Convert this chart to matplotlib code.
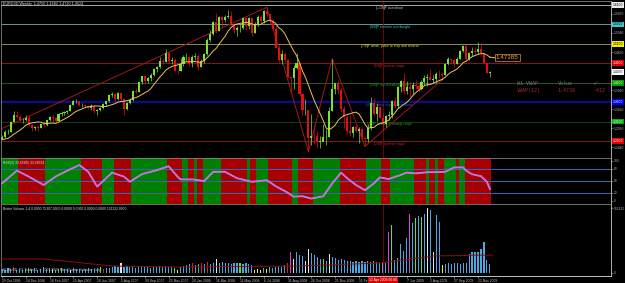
import numpy as np
import pandas as pd
import matplotlib
matplotlib.use("Agg")
import matplotlib.pyplot as plt

# ---- weekly EURUSD, first bar 29 Oct 2006 ----
first_open = 1.2660
closes = [
    1.2710, 1.2830, 1.2830, 1.3100, 1.3280, 1.3220, 1.3130, 1.3150, 1.3200, 1.3000,
    1.2930, 1.2950, 1.2940, 1.3050, 1.3000, 1.3130, 1.3220, 1.3200, 1.3120, 1.3300,
    1.3330, 1.3350, 1.3370, 1.3530, 1.3620, 1.3620, 1.3520, 1.3520, 1.3490, 1.3450,
    1.3500, 1.3370, 1.3410, 1.3450, 1.3540, 1.3620, 1.3780, 1.3810, 1.3690, 1.3830,
    1.3670, 1.3420, 1.3580, 1.3650, 1.3880, 1.3870, 1.4110, 1.4270, 1.4140, 1.4230,
    1.4310, 1.4460, 1.4510, 1.4660, 1.4640, 1.4860, 1.4650, 1.4680, 1.4410, 1.4400,
    1.4590, 1.4750, 1.4760, 1.4620, 1.4770, 1.4800, 1.4500, 1.4670, 1.4830, 1.5200,
    1.5360, 1.5660, 1.5430, 1.5790, 1.5720, 1.5800, 1.5810, 1.5600, 1.5460, 1.5500,
    1.5500, 1.5760, 1.5550, 1.5760, 1.5380, 1.5620, 1.5800, 1.5690, 1.5950, 1.5860,
    1.5700, 1.5490, 1.5000, 1.4680, 1.4850, 1.4680, 1.4260, 1.4220, 1.4480, 1.4620,
    1.3800, 1.3400, 1.3410, 1.2680, 1.2730, 1.2720, 1.2580, 1.2580, 1.2700, 1.2710,
    1.3380, 1.3930, 1.4080, 1.3920, 1.3430, 1.3230, 1.2850, 1.2800, 1.2950, 1.2850,
    1.2920, 1.2670, 1.2650, 1.2930, 1.3580, 1.3290, 1.3480, 1.3200, 1.3050, 1.3250,
    1.3270, 1.3630, 1.3490, 1.3990, 1.4150, 1.3880, 1.3990, 1.3930, 1.4030, 1.4010,
    1.3940, 1.4120, 1.4220, 1.4250, 1.4180, 1.4190, 1.4330, 1.4320, 1.4300, 1.4570,
    1.4700, 1.4680, 1.4580, 1.4720, 1.4910, 1.5050, 1.4720, 1.4860, 1.4910, 1.4880,
    1.4980, 1.4860, 1.4600, 1.4350, 1.4370,
]
highs = [
    1.2760, 1.2880, 1.2900, 1.3120, 1.3370, 1.3370, 1.3260, 1.3190, 1.3260, 1.3280,
    1.3040, 1.2990, 1.3000, 1.3070, 1.3110, 1.3150, 1.3250, 1.3260, 1.3230, 1.3320,
    1.3380, 1.3380, 1.3400, 1.3550, 1.3650, 1.3680, 1.3630, 1.3580, 1.3560, 1.3500,
    1.3540, 1.3530, 1.3430, 1.3470, 1.3570, 1.3640, 1.3800, 1.3850, 1.3840, 1.3850,
    1.3840, 1.3700, 1.3610, 1.3700, 1.3900, 1.3960, 1.4130, 1.4280, 1.4280, 1.4250,
    1.4350, 1.4480, 1.4530, 1.4750, 1.4730, 1.4970, 1.4880, 1.4760, 1.4740, 1.4440,
    1.4740, 1.4820, 1.4860, 1.4780, 1.4820, 1.4870, 1.4840, 1.4720, 1.4870, 1.5240,
    1.5460, 1.5680, 1.5900, 1.5820, 1.5810, 1.5850, 1.5980, 1.5940, 1.5670, 1.5550,
    1.5610, 1.5800, 1.5780, 1.5800, 1.5760, 1.5660, 1.5830, 1.5850, 1.5960, 1.6040,
    1.5860, 1.5720, 1.5580, 1.5060, 1.4930, 1.4890, 1.4710, 1.4280, 1.4560, 1.4870,
    1.4640, 1.3840, 1.3680, 1.3370, 1.3300, 1.3000, 1.2860, 1.2740, 1.3050, 1.2920,
    1.3480, 1.4720, 1.4100, 1.4160, 1.3980, 1.3490, 1.3280, 1.3270, 1.2980, 1.3000,
    1.2960, 1.2930, 1.2720, 1.3040, 1.3740, 1.3680, 1.3580, 1.3450, 1.3330, 1.3280,
    1.3380, 1.3650, 1.3740, 1.4010, 1.4170, 1.4340, 1.4140, 1.4130, 1.4120, 1.4160,
    1.4100, 1.4180, 1.4290, 1.4330, 1.4450, 1.4300, 1.4380, 1.4440, 1.4370, 1.4600,
    1.4760, 1.4740, 1.4700, 1.4760, 1.4950, 1.5060, 1.5070, 1.4890, 1.5010, 1.5010,
    1.5140, 1.5140, 1.4850, 1.4610, 1.4410,
]
lows = [
    1.2640, 1.2680, 1.2790, 1.2820, 1.3090, 1.3180, 1.3090, 1.3060, 1.3110, 1.2990,
    1.2870, 1.2880, 1.2870, 1.2930, 1.2950, 1.2980, 1.3120, 1.3090, 1.3080, 1.3110,
    1.3250, 1.3270, 1.3300, 1.3360, 1.3520, 1.3570, 1.3500, 1.3480, 1.3460, 1.3420,
    1.3390, 1.3310, 1.3280, 1.3380, 1.3420, 1.3510, 1.3600, 1.3740, 1.3600, 1.3650,
    1.3620, 1.3260, 1.3410, 1.3560, 1.3620, 1.3840, 1.3860, 1.4070, 1.4060, 1.4080,
    1.4150, 1.4280, 1.4380, 1.4480, 1.4580, 1.4640, 1.4570, 1.4580, 1.4390, 1.4330,
    1.4390, 1.4530, 1.4650, 1.4530, 1.4500, 1.4690, 1.4440, 1.4500, 1.4620, 1.4810,
    1.5150, 1.5340, 1.5380, 1.5430, 1.5530, 1.5650, 1.5760, 1.5560, 1.5380, 1.5290,
    1.5400, 1.5470, 1.5450, 1.5470, 1.5300, 1.5370, 1.5570, 1.5620, 1.5640, 1.5820,
    1.5600, 1.5450, 1.4990, 1.4640, 1.4580, 1.4640, 1.4210, 1.3880, 1.3940, 1.4450,
    1.3760, 1.3260, 1.3260, 1.2330, 1.2490, 1.2520, 1.2450, 1.2420, 1.2620, 1.2500,
    1.2710, 1.3370, 1.3810, 1.3820, 1.3350, 1.2930, 1.2770, 1.2730, 1.2700, 1.2820,
    1.2540, 1.2620, 1.2460, 1.2580, 1.2890, 1.3240, 1.3110, 1.3180, 1.2890, 1.2970,
    1.3130, 1.3180, 1.3460, 1.3460, 1.3860, 1.3820, 1.3810, 1.3730, 1.3820, 1.3950,
    1.3850, 1.3900, 1.4050, 1.4010, 1.4170, 1.4090, 1.4100, 1.4210, 1.4160, 1.4290,
    1.4550, 1.4590, 1.4480, 1.4580, 1.4700, 1.4880, 1.4690, 1.4690, 1.4780, 1.4830,
    1.4830, 1.4820, 1.4580, 1.4340, 1.4260,
]
# closes of the nine weeks before the first bar (they seed the moving average)
pre_closes = [1.2700, 1.2650, 1.2600, 1.2690, 1.2720, 1.2620, 1.2560, 1.2510, 1.2600]
ma_period = 10
vwap_value = 1.47385

# the 12 Apr 2009 label sits under the red line-date box, so it stays blank
date_labels = ["29 Oct 2006", "24 Dec 2006", "18 Feb 2007", "15 Apr 2007", "10 Jun 2007",
               "5 Aug 2007", "30 Sep 2007", "25 Nov 2007", "20 Jan 2008", "16 Mar 2008",
               "11 May 2008", "6 Jul 2008", "31 Aug 2008", "26 Oct 2008", "21 Dec 2008",
               "15 Feb 2009", "", "7 Jun 2009", "2 Aug 2009", "27 Sep 2009",
               "22 Nov 2009"]
label_step = 8          # weeks between date labels
vline_bar = 128         # vertical line object (12 Apr 2009)

# Murrey math levels
mm_prices = [1.61, 1.56, 1.51, 1.46, 1.41, 1.36, 1.31, 1.26]
mm_labels = ["[+1/8]P overshoot", "[8/8]P extreme overbought",
             "[7/8]P weak, place to stop and reverse", "[6/8]P reverse major",
             "[5/8]P top of trading range", "[4/8]P major support/resistance",
             "[3/8]P bottom of trading range", "[2/8]P reverse major"]
mm_line_colors = ["#a8a8a8", "#5f9c9c", "#8c8c52", "#861818", "#2c562c", "#0c0c84", "#0c420c", "#861818"]
mm_line_widths = [0.7, 0.7, 0.7, 0.7, 0.7, 1.7, 0.7, 0.7]
mm_text_colors = ["#d0d0d0", "#40c8c8", "#e0e040", "#d02020", "#20a020", "#3050e0", "#20a020", "#d02020"]
mm_box_colors = ["#e8e8e8", "#40c8c8", "#f0f000", "#e00000", "#00a000", "#0000f0", "#00b000", "#e00000"]
price_ticks = [1.5870, 1.5380, 1.4890, 1.3910, 1.3420, 1.2930, 1.2440]

# zigzag pivots (bar, price)
zz_bars = [-5, 89, 103, 111, 122, 148]
zz_prices = [1.2745, 1.6040, 1.2330, 1.4720, 1.2460, 1.4180]

# oscillator panel
rsi_bars = [0, 5, 9, 14, 18, 22, 26, 29, 32, 37, 41, 43, 47, 52, 56, 59, 60, 64, 68, 71,
            75, 79, 84, 89, 92, 96, 98, 101, 104, 108, 111, 114, 116, 119, 122, 125, 127, 130,
            134, 136, 139, 143, 146, 149, 152, 155, 156, 158, 161, 163, 164]
rsi_vals = [44, 76, 61, 40, 61, 76, 90, 73, 36, 71, 61, 48, 67, 77, 87, 61, 54, 54, 50, 73,
            73, 57, 48, 52, 37, 21, 11, 12, 6, 12, 44, 71, 57, 40, 27, 44, 59, 55,
            65, 71, 69, 72, 72, 73, 84, 84, 76, 67, 62, 48, 30]
rsi_levels = [20, 50, 80]
band_runs = [6, 9, 12, 7, 4, 6, 12, 5, 2, 2, 1, 2, 6, 9, 1, 2, 4, 8, 2, 5, 9, 9, 5, 3, 8,
             4, 1, 2, 1, 2, 4, 1, 2, 9]
band_first = "g"        # colours alternate green / red

# volume panel (thousands)
volumes = [4, 3, 5, 4, 6, 3, 4, 3, 4, 5, 4, 5, 3, 4, 6, 4, 5, 4, 3, 4, 5, 4, 4, 3, 5, 4, 4, 3, 4, 5,
           4, 4, 5, 6, 4, 5, 5,
           6, 7, 6, 10, 6, 7, 6, 6, 5, 6, 7, 6, 6, 5, 6, 6, 7, 6, 7, 6, 6, 5, 3, 6, 7, 8,
           9, 10, 8, 9, 10, 9, 11, 9, 10, 14,
           10, 11, 10, 10, 9, 10, 10, 10, 9, 10, 9, 8,
           3, 4, 3, 5, 4, 6, 5, 6, 7, 6, 8, 10,
           21, 14, 21, 18, 17, 12, 24, 20, 18, 16, 14, 14, 12, 19,
           16, 15, 13, 14, 13, 12, 12, 11, 12, 11, 12, 11, 12, 11, 12, 11, 10, 10, 10,
           41, 48, 13, 15, 29, 22, 35, 59, 50, 55, 57, 56, 59, 65, 63, 21, 58, 51, 8,
           9, 10, 9, 10, 10, 9, 10, 10, 19, 21, 21, 21, 24, 31, 13, 9]
vol_codes = ("bbbbrbbbbbgbbbbbbybbgbbwbbbbbbbbbgrbb"
             "bbbwbbbbbbbbbbbbbbbbbgybbb"
             "brbbrbrbbw"
             "bbbbbbbgbbbb"
             "yyybybbbbbbr"
             "mwbbbwwbbbbgbw"
             "bbbbbbbbbbbbbbbbbbb"
             "mgbbbbbmbgbgbwbwbby"
             "bbbbbbbbbbbbbbbb")
vol_palette = {"b": "#4aa8e2", "w": "#e8e8e8", "r": "#e02020", "g": "#60e040",
               "m": "#e040e0", "y": "#f0f040"}
vol_avg_bars = [-1, 14, 37, 60, 100, 127, 145, 165]
vol_avg_vals = [14, 14, 7, 6, 7, 10, 17, 18]

# ---- layout (pixels) ----
W, H = 625, 283
PX = 2.975              # pixels per weekly bar
X0 = 2                  # pixel of bar 0
FS = 2.4                # tiny terminal font
BG = "black"

plt.rcParams["font.family"] = ["Liberation Sans", "DejaVu Sans"]
fig = plt.figure(figsize=(W / 100, H / 100), dpi=100, facecolor=BG)


def px_axes(x0, y0, x1, y1):
    a = fig.add_axes([x0 / W, 1 - y1 / H, (x1 - x0) / W, (y1 - y0) / H])
    a.set_facecolor(BG)
    a.set_xlim((x0 - X0) / PX, (x1 - X0) / PX)
    for s in a.spines.values():
        s.set_color("#808080")
        s.set_linewidth(0.6)
    a.spines["right"].set_color("#c8c8c8")
    return a


n = len(closes)
idx = np.arange(n)
c = np.array(closes)
o = np.array([first_open] + closes[:-1])
hi = np.array(highs)
lo = np.array(lows)
ma = pd.Series(pre_closes + closes).rolling(ma_period).mean().to_numpy()[len(pre_closes):]

# ---------- main price panel ----------
ax = px_axes(1, 1, 611, 158)
step = 0.05 / 19.43
ax.set_ylim(1.61 - 153 * step, 1.61 + 4 * step)

for p, lc, lw in zip(mm_prices, mm_line_colors, mm_line_widths):
    ax.axhline(p, color=lc, lw=lw, zorder=1)
for p, t, tc in zip(mm_prices, mm_labels, mm_text_colors):
    ax.annotate(t, xy=(130.3, p), xytext=(0, -1.9), textcoords="offset points",
                ha="center", va="center", fontsize=FS, color=tc, zorder=2)

ax.axvline(vline_bar, color="#8b0000", lw=0.6, zorder=1)
ax.plot(zz_bars, zz_prices, color="#a01818", lw=0.7, zorder=2)

up = c >= o
cols = np.where(up, "#80e030", "#e01010")
ax.vlines(idx, lo, hi, colors=cols, lw=0.5, zorder=3)
body = np.maximum(np.abs(c - o), 0.0008)
ax.bar(idx, body, bottom=np.minimum(o, c), width=0.7, color=cols, lw=0, zorder=3)

ax.plot(idx, ma, color="#f2c060", lw=0.7, zorder=4)
ax.plot([idx[-1], idx[-1] + 2], [ma[-1], vwap_value], color="#f2c060", lw=0.7, zorder=4)
ax.annotate(f"{vwap_value:.5f}", xy=(idx[-1] + 2, vwap_value), ha="left", va="center",
            fontsize=4.5, color="#f0a040", zorder=5,
            bbox=dict(boxstyle="square,pad=0.15", fc=BG, ec="#e09030", lw=0.5))

ax.text(0.003, 0.992, "EURUSD,Weekly  1.4750 1.4482 1.4720 1.4524", transform=ax.transAxes,
        ha="left", va="top", fontsize=2.7, color="#e0e0e0")
mono = ["Liberation Mono", "DejaVu Sans Mono"]
for fx, t in zip([0.8459, 0.9131, 0.9705], ["W1 VWAP", "Value", "+/-"]):
    ax.text(fx, 0.4777, t, transform=ax.transAxes, fontsize=3.6, family=mono,
            color="#6a7a6a", va="center")
for fx, t in zip([0.8459, 0.9131, 0.9705], ["VWAP(12)", "1.4738", "-412"]):
    ax.text(fx, 0.4331, t, transform=ax.transAxes, fontsize=3.6, family=mono,
            color="#b02828", va="center")

ax.yaxis.tick_right()
ax.set_yticks(price_ticks, [f"{p:.4f}" for p in price_ticks])
ax.tick_params(axis="y", colors="#b0b0b0", labelsize=FS, length=1.5, width=0.4, pad=0.8)
ax.set_xticks([])
box_prices = mm_prices + [closes[-1]]
box_colors = mm_box_colors + ["#ffffff"]
for p, bc in zip(box_prices, box_colors):
    txt_col = "black" if bc in ("#e8e8e8", "#40c8c8", "#f0f000", "#ffffff") else "white"
    ax.annotate(f"{p:.4f}", xy=(1, p), xycoords=("axes fraction", "data"), xytext=(1.2, 0),
                textcoords="offset points", ha="left", va="center", fontsize=FS, color=txt_col,
                bbox=dict(boxstyle="square,pad=0.25", fc=bc, ec="none"), annotation_clip=False)

# ---------- oscillator panel ----------
ar = px_axes(1, 158, 611, 204)
ar.set_ylim(-7.5, 107.5)
start = 0
col = band_first
for run in band_runs:
    ar.axvspan(start - 0.5, start + run - 0.5, color="#008000" if col == "g" else "#a80000",
               lw=0, zorder=0)
    start += run
    col = "r" if col == "g" else "g"
for lv in rsi_levels:
    ar.axhline(lv, color="#4060a8", lw=0.8, zorder=1)
ar.plot(rsi_bars, rsi_vals, color="#8fa8d8", lw=1.3, zorder=2, solid_joinstyle="round")
ar.plot(rsi_bars, rsi_vals, color="#ff40ff", lw=0.6, zorder=3, solid_joinstyle="round")
ar.text(0.003, 0.93, "RSX(3) 39.55905 33.29594", transform=ar.transAxes, ha="left", va="top",
        fontsize=FS, color="#e0e0e0")
ar.yaxis.tick_right()
ar.set_yticks([0, 20, 50, 80, 100], ["0", "20", "50", "80", "100"])
ar.tick_params(axis="y", colors="#b0b0b0", labelsize=FS, length=1.5, width=0.4, pad=0.8)
ar.set_xticks([])
ar.spines["bottom"].set_color("#e0e0e0")

# ---------- volume panel ----------
av = px_axes(1, 204, 611, 276)
av.set_ylim(-3, 69)
av.axvline(vline_bar, color="#8b0000", lw=0.6, zorder=1)
av.bar(idx, volumes, width=0.38, color=[vol_palette[k] for k in vol_codes], lw=0, zorder=2)
av.plot(vol_avg_bars, vol_avg_vals, color="#8b1010", lw=0.7, zorder=3)
av.text(0.003, 0.96, "Better Volume 1.4 0.0000 75307.0000 0.0000 0.0000 0.0000 0.0000 151132.0000",
        transform=av.transAxes, ha="left", va="top", fontsize=FS, color="#e0e0e0")
av.text(0.003, 0.06, "EURUSD: FX Trader 4, \u00a9 2001-2009 MetaQuotes Software Corp.",
        transform=av.transAxes, ha="left", va="bottom", fontsize=FS, color="#c0c0c0", zorder=4)
av.yaxis.tick_right()
av.set_yticks([0, 65], ["0", "151132"])
av.tick_params(axis="y", colors="#b0b0b0", labelsize=FS, length=1.5, width=0.4, pad=0.8)
av.spines["bottom"].set_color("#e0e0e0")
tick_bars = [k * label_step for k in range(len(date_labels))]
av.set_xticks(tick_bars, date_labels)
av.tick_params(axis="x", colors="#c0c0c0", labelsize=FS, length=1.5, width=0.4, pad=0.6)
for lbl in av.get_xticklabels():
    lbl.set_horizontalalignment("left")
av.annotate("12 Apr 2009 00:00", xy=(vline_bar, 0), xycoords=("data", "axes fraction"),
            xytext=(0, -1.3), textcoords="offset points", ha="center", va="top",
            fontsize=FS, color="white", zorder=6, annotation_clip=False,
            bbox=dict(boxstyle="square,pad=0.3", fc="#e00000", ec="none"))

fig.savefig("out.png", dpi=100, facecolor=BG)
